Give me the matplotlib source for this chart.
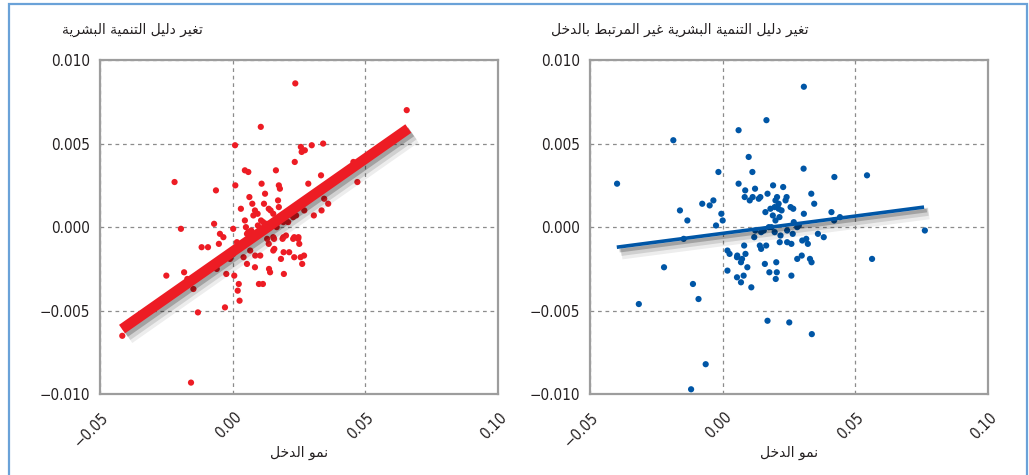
import matplotlib
matplotlib.use("Agg")
import matplotlib.pyplot as plt
import matplotlib.patheffects as pe
import matplotlib.transforms as mtransforms
from matplotlib import font_manager
from matplotlib.patches import Rectangle

# ---------------- data ----------------
left_title = "تغير دليل التنمية البشرية"
right_title = "تغير دليل التنمية البشرية غير المرتبط بالدخل"
x_label = "نمو الدخل"

x_ticks = [-0.05, 0.00, 0.05, 0.10]
x_tick_labels = ["\u22120.05", "0.00", "0.05", "0.10"]
y_ticks = [-0.010, -0.005, 0.000, 0.005, 0.010]
y_tick_labels = ["\u22120.010", "\u22120.005", "0.000", "0.005", "0.010"]

left_x = [0.0236, 0.0656, 0.0106, 0.0009, 0.0257, 0.0272, 0.0260, 0.0298, 0.0341, 0.0234,
          0.0455, 0.0470, -0.0219, -0.0063, 0.0046, 0.0059, 0.0163, 0.0010, 0.0109, 0.0333,
          0.0285, 0.0122, 0.0174, 0.0178, 0.0063, 0.0074, 0.0171, 0.0174, 0.0118, 0.0031,
          0.0084, 0.0094, 0.0136, 0.0143, 0.0153, 0.0345, 0.0360, 0.0335, 0.0270, 0.0306,
          0.0046, 0.0078, 0.0107, 0.0128, 0.0147, 0.0166, 0.0191, 0.0209, 0.0228, 0.0239,
          -0.0070, -0.0195, 0.0002, 0.0050, 0.0059, -0.0048, -0.0035, 0.0153, 0.0191, 0.0201,
          0.0232, 0.0248, -0.0416, -0.0157, -0.0131, -0.0029, 0.0026, 0.0019, 0.0023, -0.0250,
          -0.0183, -0.0171, -0.0148, -0.0024, 0.0006, 0.0099, 0.0114, 0.0137, 0.0141, 0.0193,
          0.0084, 0.0054, 0.0085, 0.0104, 0.0041, 0.0066, -0.0117, -0.0093, -0.0052, 0.0016,
          0.0028, 0.0002, 0.0153, 0.0157, 0.0182, 0.0192, 0.0213, 0.0232, 0.0256, 0.0269,
          0.0262, 0.0228, 0.0247, 0.0251, 0.0188, 0.0156, 0.0130, 0.0136, 0.0054, 0.0070,
          0.0095, 0.0115, 0.0030, -0.0010, -0.0060]
left_y = [0.0086, 0.0070, 0.0060, 0.0049, 0.0048, 0.0046, 0.0045, 0.0049, 0.0050, 0.0039,
          0.0039, 0.0027, 0.0027, 0.0022, 0.0034, 0.0033, 0.0034, 0.0025, 0.0026, 0.0031,
          0.0026, 0.0020, 0.0025, 0.0023, 0.0018, 0.0014, 0.0016, 0.0012, 0.0014, 0.0011,
          0.0010, 0.0008, 0.0011, 0.0010, 0.0008, 0.0017, 0.0014, 0.0010, 0.0010, 0.0007,
          0.0004, 0.0007, 0.0004, 0.0002, 0.0001, 0.0000, 0.0003, 0.0003, 0.0006, 0.0007,
          0.0002, -0.0001, -0.0001, 0.0000, -0.0003, -0.0004, -0.0006, -0.0006, -0.0006, -0.0005,
          -0.0006, -0.0006, -0.0065, -0.0093, -0.0051, -0.0048, -0.0044, -0.0038, -0.0034, -0.0029,
          -0.0027, -0.0031, -0.0037, -0.0028, -0.0029, -0.0034, -0.0034, -0.0025, -0.0027, -0.0028,
          -0.0024, -0.0022, -0.0017, -0.0017, -0.0018, -0.0014, -0.0012, -0.0012, -0.0010, -0.0009,
          -0.0010, -0.0016, -0.0014, -0.0013, -0.0019, -0.0015, -0.0015, -0.0018, -0.0018, -0.0017,
          -0.0022, -0.0007, -0.0007, -0.0010, -0.0007, -0.0007, -0.0007, -0.0010, -0.0004, -0.0002,
          0.0001, 0.0003, -0.0012, -0.0019, -0.0025]

right_x = [0.0306, 0.0165, 0.0060, -0.0186, -0.0398, 0.0098, 0.0112, -0.0016, 0.0305, 0.0421,
           0.0544, 0.0060, 0.0190, 0.0228, 0.0085, 0.0122, 0.0169, 0.0083, 0.0102, 0.0113,
           0.0136, 0.0142, 0.0334, 0.0345, -0.0077, -0.0049, -0.0035, -0.0161, -0.0133, -0.0005,
           0.0000, -0.0025, 0.0199, 0.0205, 0.0211, 0.0237, 0.0241, 0.0196, 0.0211, 0.0222,
           0.0256, 0.0266, 0.0161, 0.0180, 0.0189, 0.0199, 0.0214, 0.0174, 0.0184, 0.0243,
           0.0268, 0.0281, 0.0287, 0.0410, 0.0420, 0.0442, 0.0762, 0.0306, 0.0359, 0.0381,
           -0.0316, -0.0091, -0.0112, -0.0221, -0.0064, -0.0119, 0.0169, 0.0251, 0.0336, 0.0563,
           -0.0147, 0.0108, 0.0018, 0.0054, 0.0069, 0.0079, 0.0018, 0.0026, 0.0054, 0.0055,
           0.0069, 0.0073, 0.0086, 0.0093, 0.0176, 0.0204, 0.0202, 0.0200, 0.0159, 0.0259,
           0.0281, 0.0298, 0.0329, 0.0335, 0.0081, 0.0140, 0.0145, 0.0164, 0.0215, 0.0243,
           0.0259, 0.0300, 0.0315, 0.0321, 0.0119, 0.0196, 0.0218, 0.0264, 0.0123, 0.0145,
           0.0155]
right_y = [0.0084, 0.0064, 0.0058, 0.0052, 0.0026, 0.0042, 0.0033, 0.0033, 0.0035, 0.0030,
           0.0031, 0.0026, 0.0025, 0.0024, 0.0022, 0.0023, 0.0020, 0.0018, 0.0016, 0.0018,
           0.0017, 0.0018, 0.0020, 0.0014, 0.0014, 0.0013, 0.0016, 0.0010, 0.0004, 0.0008,
           0.0004, 0.0001, 0.0016, 0.0018, 0.0014, 0.0016, 0.0018, 0.0012, 0.0011, 0.0010,
           0.0012, 0.0011, 0.0009, 0.0011, 0.0007, 0.0004, 0.0006, 0.0000, -0.0000, -0.0002,
           0.0003, 0.0000, 0.0001, 0.0009, 0.0004, 0.0006, -0.0002, 0.0008, -0.0004, -0.0006,
           -0.0046, -0.0043, -0.0034, -0.0024, -0.0082, -0.0097, -0.0056, -0.0057, -0.0064, -0.0019,
           -0.0007, -0.0036, -0.0026, -0.0030, -0.0033, -0.0029, -0.0014, -0.0016, -0.0018, -0.0017,
           -0.0021, -0.0019, -0.0016, -0.0024, -0.0027, -0.0027, -0.0021, -0.0031, -0.0022, -0.0029,
           -0.0019, -0.0017, -0.0019, -0.0021, -0.0011, -0.0011, -0.0013, -0.0011, -0.0009, -0.0009,
           -0.0010, -0.0008, -0.0007, -0.0010, -0.0006, -0.0003, -0.0005, -0.0004, -0.0002, -0.0003,
           -0.0002]

left_fit_x = [-0.0417, 0.0662]
left_fit_y = [-0.0061, 0.0059]
right_fit_x = [-0.0399, 0.0759]
right_fit_y = [-0.0012, 0.0012]

RED = "#ED1C24"
BLUE = "#0056A6"
TEXT = "#231F20"

# ---------------- minimal Arabic shaping ----------------
FORMS = {  # isolated, final, initial, medial
    "ا": ("\uFE8D", "\uFE8E", None, None),
    "ب": ("\uFE8F", "\uFE90", "\uFE91", "\uFE92"),
    "ة": ("\uFE93", "\uFE94", None, None),
    "ت": ("\uFE95", "\uFE96", "\uFE97", "\uFE98"),
    "خ": ("\uFEA5", "\uFEA6", "\uFEA7", "\uFEA8"),
    "د": ("\uFEA9", "\uFEAA", None, None),
    "ر": ("\uFEAD", "\uFEAE", None, None),
    "ش": ("\uFEB5", "\uFEB6", "\uFEB7", "\uFEB8"),
    "ط": ("\uFEC1", "\uFEC2", "\uFEC3", "\uFEC4"),
    "غ": ("\uFECD", "\uFECE", "\uFECF", "\uFED0"),
    "ل": ("\uFEDD", "\uFEDE", "\uFEDF", "\uFEE0"),
    "م": ("\uFEE1", "\uFEE2", "\uFEE3", "\uFEE4"),
    "ن": ("\uFEE5", "\uFEE6", "\uFEE7", "\uFEE8"),
    "و": ("\uFEED", "\uFEEE", None, None),
    "ي": ("\uFEF1", "\uFEF2", "\uFEF3", "\uFEF4"),
}


def shape(text):
    out = []
    n = len(text)
    for i, ch in enumerate(text):
        if ch not in FORMS:
            out.append(ch)
            continue
        prev = text[i - 1] if i > 0 else None
        nxt = text[i + 1] if i < n - 1 else None
        join_prev = prev in FORMS and FORMS[prev][2] is not None
        join_next = nxt in FORMS and FORMS[ch][2] is not None
        iso, fin, ini, med = FORMS[ch]
        if join_prev and join_next:
            out.append(med)
        elif join_prev:
            out.append(fin)
        elif join_next:
            out.append(ini)
        else:
            out.append(iso)
    return "".join(out)[::-1]


# ---------------- fonts ----------------
available = {f.name for f in font_manager.fontManager.ttflist}
num_font = "Liberation Sans Narrow" if "Liberation Sans Narrow" in available else "DejaVu Sans"
num_kw = {"family": num_font}
if num_font == "DejaVu Sans":
    num_kw["stretch"] = "condensed"
ar_font = ["DejaVu Sans"]

# ---------------- figure ----------------
W, H = 1029, 475
fig = plt.figure(figsize=(W / 100, H / 100), dpi=100)
fig.patch.set_facecolor("white")

# outer blue frame
fig.add_artist(Rectangle((9 / W, -0.05), (1027 - 9) / W, (H - 4) / H + 0.05,
                         transform=fig.transFigure, fill=False,
                         edgecolor="#6AA2D8", linewidth=1.6))

ax_h = 334.3 / H
ax_w = 398 / W
ax_b = (H - 394.3) / H
ax1 = fig.add_axes([100 / W, ax_b, ax_w, ax_h])
ax2 = fig.add_axes([590 / W, ax_b, ax_w, ax_h])

panels = [
    (ax1, left_x, left_y, left_fit_x, left_fit_y, RED, 7.5, left_title, 62),
    (ax2, right_x, right_y, right_fit_x, right_fit_y, BLUE, 2.6, right_title, 551),
]

shift = mtransforms.ScaledTranslation(1 / 100, 0, fig.dpi_scale_trans)

for ax, xs, ys, fx, fy, col, lw, title, tx in panels:
    ax.set_xlim(-0.05, 0.10)
    ax.set_ylim(-0.010, 0.010)
    ax.set_xticks(x_ticks)
    ax.set_yticks(y_ticks)
    ax.set_xticklabels(x_tick_labels, rotation=45, ha="right", va="top",
                       rotation_mode="anchor", color=TEXT, fontsize=11, **num_kw)
    ax.set_yticklabels(y_tick_labels, color=TEXT, fontsize=11, **num_kw)
    ax.tick_params(axis="both", length=0)
    ax.tick_params(axis="y", pad=7)
    ax.tick_params(axis="x", pad=11)
    for lab in ax.get_xticklabels():
        lab.set_transform(lab.get_transform() + shift)
    for s in ax.spines.values():
        s.set_color("#9D9D9D")
        s.set_linewidth(1.6)
    ax.grid(True, color="#8C8C8C", linestyle=(0, (3, 3)), linewidth=0.9)
    ax.set_axisbelow(True)

    ax.scatter(xs, ys, s=20, color=col, edgecolors="none", zorder=3)
    ax.plot(fx, fy, color=col, linewidth=lw, solid_capstyle="butt", zorder=4,
            path_effects=[
                pe.SimpleLineShadow(offset=(3.5, -4.5), shadow_color="#000000", alpha=0.07, linewidth=lw + 6),
                pe.SimpleLineShadow(offset=(3, -3.5), shadow_color="#000000", alpha=0.12, linewidth=lw + 3),
                pe.SimpleLineShadow(offset=(2, -2.5), shadow_color="#000000", alpha=0.22, linewidth=lw),
                pe.Normal()])

    ax.set_xlabel(shape(x_label), family=ar_font, fontsize=10, color=TEXT, va="center")
    ax.xaxis.set_label_coords(0.5, -(453 - 394.3) / 334.3)

    fig.text(tx / W, (H - 30) / H, shape(title), family=ar_font, fontsize=10,
             color=TEXT, ha="left", va="center")

fig.savefig("out.png", dpi=100, facecolor="white")
